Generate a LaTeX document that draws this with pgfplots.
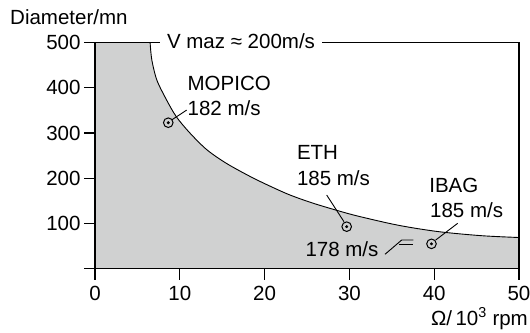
\documentclass[border=0pt]{standalone}
\usepackage{fontspec}
\setmainfont{Liberation Sans}
\usepackage{pgfplots}
\pgfplotsset{compat=1.18}
\definecolor{fillgray}{RGB}{208,209,209}
\begin{document}
\begin{tikzpicture}[font=\fontsize{20.5}{23}\selectfont]
\useasboundingbox (0pt,0pt) rectangle (530pt,332pt);
\begin{axis}[
  at={(95pt,63.3pt)}, anchor=south west,
  scale only axis, width=424pt, height=226pt,
  xmin=0, xmax=50, ymin=0, ymax=500,
  axis on top, clip=false,
  axis line style={line width=1.2pt},
  every tick/.style={black, line width=1.2pt},
  tick align=outside, major tick length=11pt,
  xtick pos=bottom, ytick pos=left,
  xtick={0,10,20,30,40,50},
  ytick={0,100,200,300,400,500},
  yticklabels={,100,200,300,400,500},
  /pgf/number format/assume math mode=true,
  xticklabel style={yshift=-3pt},
  yticklabel style={xshift=0pt},
]
\addplot[fill=fillgray, draw=none] coordinates {(0,0) (0,500) (6.55,500) (6.55,0)} -- cycle;
\addplot[fill=fillgray, draw=none, smooth] coordinates {
(6.5,500) (6.7,462) (7.3,417) (8.45,373) (9.6,336) (11.2,300) (13.2,263) (15.5,233) (18.3,204) (20.6,183) (23,163) (25.7,145) (28.9,127) (31.3,115) (35.8,96) (40.5,82) (45.6,73) (50,69)} \closedcycle;
\addplot[black, line width=0.9pt, smooth] coordinates {
(6.5,500) (6.7,462) (7.3,417) (8.45,373) (9.6,336) (11.2,300) (13.2,263) (15.5,233) (18.3,204) (20.6,183) (23,163) (25.7,145) (28.9,127) (31.3,115) (35.8,96) (40.5,82) (45.6,73) (50,69)};
\addplot[only marks, mark=o, mark size=4.8pt, mark options={line width=1pt, black}] coordinates {(8.64,323) (29.68,93) (39.68,55)};
\addplot[only marks, mark=*, mark size=1.3pt, mark options={black}] coordinates {(8.64,323) (29.68,93) (39.68,55)};
% leaders
\draw[line width=0.9pt] (axis cs:9.04,329) -- (axis cs:10.81,351);
\draw[line width=0.9pt] (axis cs:27.32,163) -- (axis cs:29.36,104);
\draw[line width=0.9pt] (axis cs:42.77,100.4) -- (axis cs:40.18,63.5);
\draw[line width=0.9pt] (axis cs:34.2,31.9) -- (axis cs:36.17,63.5) -- (axis cs:37.54,63.5);
\draw[line width=0.9pt] (axis cs:35.9,54.6) -- (axis cs:37.54,54.6);
% labels
\node[anchor=base west, inner sep=0pt] at (axis cs:10.9,394) {MOPICO};
\node[anchor=base west, inner sep=0pt] at (axis cs:10.9,338) {182 m/s};
\node[anchor=base west, inner sep=0pt] at (axis cs:23.8,242) {ETH};
\node[anchor=base west, inner sep=0pt] at (axis cs:23.8,185) {185 m/s};
\node[anchor=base west, inner sep=0pt] at (axis cs:39.4,168) {IBAG};
\node[anchor=base west, inner sep=0pt] at (axis cs:39.5,114) {185 m/s};
\node[anchor=base west, inner sep=0pt] at (axis cs:24.8,26.5) {178 m/s};
\end{axis}
\node[fill=white, inner xsep=7pt, inner ysep=2pt] at (241pt,291pt) {V maz ≈ 200m/s};
\node[anchor=base west, inner sep=0pt] at (10pt,307pt) {Diameter/mn};
\node[anchor=base east, inner sep=0pt] at (528pt,7pt) {Ω/\,10\textsuperscript{3} rpm};
\end{tikzpicture}
\end{document}
